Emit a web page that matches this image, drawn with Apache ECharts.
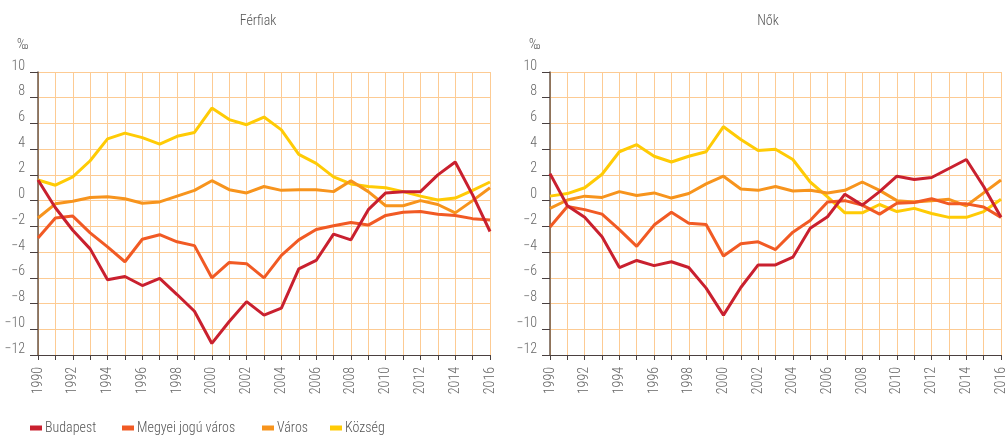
<!DOCTYPE html>
<html>
<head>
<meta charset="utf-8">
<script src="https://cdn.jsdelivr.net/npm/echarts@6/dist/echarts.min.js"></script>
<style>
  html, body { margin: 0; padding: 0; background: #fff; }
  #chart { width: 1008px; height: 436px; }
</style>
</head>
<body>
<div id="chart"></div>
<script>
// évek
var years = [];
for (var y = 1990; y <= 2016; y++) years.push(String(y));

var seriesNames = ['Budapest', 'Megyei jogú város', 'Város', 'Község'];
var colors = ['#C9202F', '#F15A24', '#F7941D', '#FFCB05'];

// Férfiak
var ferfiBudapest = [1.6, -0.55, -2.3, -3.75, -6.15, -5.9, -6.6, -6.05, -7.3, -8.6, -11.1, -9.4, -7.85, -8.9, -8.35, -5.3, -4.65, -2.6, -3.05, -0.7, 0.6, 0.7, 0.7, 2.0, 3.0, 0.45, -2.4];
var ferfiMegyei = [-2.9, -1.35, -1.2, -2.5, -3.6, -4.75, -3.0, -2.65, -3.2, -3.5, -6.0, -4.8, -4.9, -6.0, -4.25, -3.05, -2.25, -1.95, -1.7, -1.9, -1.15, -0.9, -0.85, -1.05, -1.15, -1.4, -1.5];
var ferfiVaros = [-1.35, -0.25, -0.05, 0.25, 0.3, 0.15, -0.2, -0.1, 0.35, 0.8, 1.55, 0.85, 0.6, 1.1, 0.8, 0.85, 0.85, 0.7, 1.55, 0.7, -0.4, -0.4, 0, -0.3, -0.95, 0, 1.0];
var ferfiKozseg = [1.6, 1.2, 1.85, 3.1, 4.8, 5.25, 4.9, 4.4, 5.0, 5.3, 7.2, 6.3, 5.9, 6.5, 5.5, 3.6, 2.9, 1.85, 1.3, 1.1, 1.0, 0.7, 0.35, 0.05, 0.2, 0.8, 1.45];

// Nők
var noBudapest = [2.1, -0.4, -1.3, -2.8, -5.2, -4.65, -5.05, -4.75, -5.2, -6.8, -8.9, -6.75, -5.0, -5.0, -4.4, -2.15, -1.25, 0.5, -0.35, 0.7, 1.9, 1.65, 1.8, 2.5, 3.2, 1.1, -1.3];
var noMegyei = [-2.05, -0.45, -0.7, -1.05, -2.25, -3.55, -1.9, -0.9, -1.75, -1.85, -4.3, -3.35, -3.2, -3.8, -2.45, -1.55, -0.1, 0, -0.35, -1.05, -0.2, -0.15, 0.15, -0.25, -0.25, -0.5, -1.3];
var noVaros = [-0.6, 0.05, 0.35, 0.25, 0.7, 0.4, 0.6, 0.2, 0.55, 1.3, 1.9, 0.9, 0.8, 1.1, 0.75, 0.8, 0.6, 0.8, 1.45, 0.8, 0, -0.1, 0, 0.1, -0.4, 0.6, 1.6];
var noKozseg = [0.35, 0.55, 1.0, 2.05, 3.8, 4.35, 3.45, 3.0, 3.45, 3.8, 5.75, 4.75, 3.9, 4.0, 3.2, 1.45, 0.3, -0.95, -0.95, -0.3, -0.85, -0.6, -1.0, -1.3, -1.3, -0.85, 0.1];

var ferfiData = [ferfiBudapest, ferfiMegyei, ferfiVaros, ferfiKozseg];
var noData = [noBudapest, noMegyei, noVaros, noKozseg];

var font = '"Roboto Condensed", "DejaVu Sans Condensed", sans-serif';
var gridColor = '#FDCB93';
var labelColor = '#666';

var chart = echarts.init(document.getElementById('chart'), null, { renderer: 'canvas' });

function xAxisFor(gridIndex) {
  return {
    type: 'category',
    gridIndex: gridIndex,
    data: years,
    boundaryGap: false,
    axisLine: { onZero: false, lineStyle: { color: '#4a4040', width: 1 } },
    axisTick: { show: true, interval: 0, length: 5, lineStyle: { color: '#4a4040' } },
    axisLabel: { interval: 1, rotate: 90, color: labelColor, fontFamily: font, fontWeight: 300, fontSize: 14, margin: 12 },
    splitLine: { show: true, interval: 0, lineStyle: { color: gridColor, width: 1 } }
  };
}

function yAxisFor(gridIndex) {
  return {
    type: 'value',
    gridIndex: gridIndex,
    min: -12,
    max: 10,
    interval: 2,
    axisLine: { show: true, lineStyle: { color: '#6b5646', width: 1.5 } },
    axisTick: { show: true, length: 8, lineStyle: { color: '#4a4040' } },
    axisLabel: {
      color: labelColor, fontFamily: font, fontWeight: 300, fontSize: 14, margin: 13,
      verticalAlign: 'bottom', lineHeight: 12,
      formatter: function (v) { return v < 0 ? '\u2212' + Math.abs(v) : String(v); }
    },
    splitLine: { show: true, lineStyle: { color: gridColor, width: 1 } }
  };
}

var series = [];
[ferfiData, noData].forEach(function (set, g) {
  set.forEach(function (vals, i) {
    series.push({
      name: seriesNames[i],
      type: 'line',
      xAxisIndex: g,
      yAxisIndex: g,
      data: vals,
      symbol: 'none',
      lineStyle: { width: 3, color: colors[i] },
      itemStyle: { color: colors[i] },
      z: 10 - i
    });
  });
});

// jelmagyarázat elemenként, hogy pontosan lehessen pozícionálni
var legendLeft = [30, 122, 262, 330];
var legends = seriesNames.map(function (n, i) {
  return {
    data: [n],
    left: legendLeft[i],
    top: 421,
    padding: 0,
    icon: 'rect',
    itemWidth: 12,
    itemHeight: 5,
    textStyle: { color: '#555', fontFamily: font, fontWeight: 300, fontSize: 14, padding: [0, 0, 0, -2] },
    selectedMode: false
  };
});

var titleStyle = { color: '#555', fontFamily: font, fontWeight: 300, fontSize: 14 };
var option = {
  animation: false,
  color: colors,
  title: [
    { text: 'Férfiak', left: 253, top: 9, textAlign: 'center', textStyle: titleStyle },
    { text: 'Nők', left: 763, top: 9, textAlign: 'center', textStyle: titleStyle },
    { text: '‰', left: 12, top: 33, textStyle: titleStyle },
    { text: '‰', left: 524, top: 33, textStyle: titleStyle }
  ],
  legend: legends,
  grid: [
    { left: 38, right: 518, top: 72, bottom: 81 },
    { left: 550, right: 6, top: 72, bottom: 81 }
  ],
  xAxis: [xAxisFor(0), xAxisFor(1)],
  yAxis: [yAxisFor(0), yAxisFor(1)],
  series: series
};

chart.setOption(option);
</script>
</body>
</html>
